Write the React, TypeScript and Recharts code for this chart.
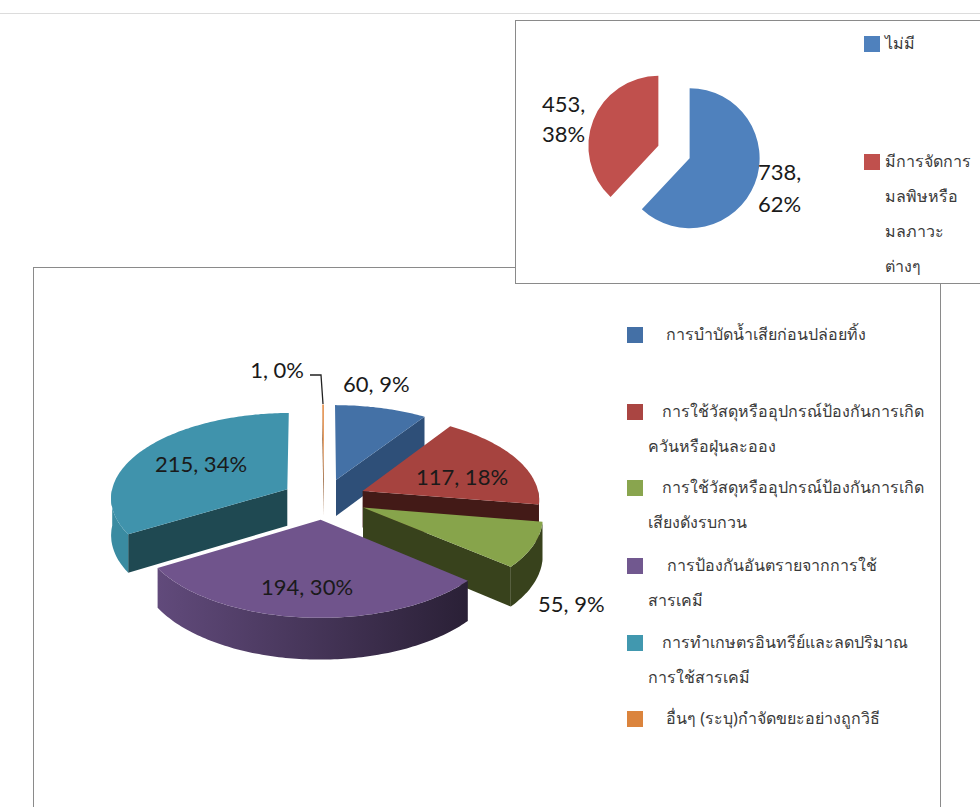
import { PieChart, Pie, Sector } from 'recharts';

// top chart
const topNames = ['ไม่มี', 'มีการจัดการมลพิษหรือมลภาวะต่างๆ'];
const topValues = [738, 453];
const topPercents = [62, 38];
const topColors = ['#4F81BD', '#C0504D'];

// bottom chart
const mainNames = [
  'การบำบัดน้ำเสียก่อนปล่อยทิ้ง',
  'การใช้วัสดุหรืออุปกรณ์ป้องกันการเกิดควันหรือฝุ่นละออง',
  'การใช้วัสดุหรืออุปกรณ์ป้องกันการเกิดเสียงดังรบกวน',
  'การป้องกันอันตรายจากการใช้สารเคมี',
  'การทำเกษตรอินทรีย์และลดปริมาณการใช้สารเคมี',
  'อื่นๆ (ระบุ)กำจัดขยะอย่างถูกวิธี',
];
const mainValues = [60, 117, 55, 194, 215, 1];
const mainPercents = [9, 18, 9, 30, 34, 0];
const faceColors = ['#4471A6', '#A6433F', '#87A44B', '#70548C', '#4093AC', '#E2853A'];
const wallColors = ['#2E4F78', '#431A17', '#38421C', '#4A3760', '#1F4952', '#8A4F20'];
const rimColors = ['#2E4F78', '#431A17', '#38421C', 'url(#purpleRim)', '#3A8BA1', '#8A4F20'];
const legendColors = ['#4470A6', '#AA4542', '#89A54E', '#71588F', '#4198AF', '#DB843D'];

const topLegend = [
  { lines: ['ไม่มี'], top: 36 },
  { lines: ['มีการจัดการ', 'มลพิษหรือ', 'มลภาวะ', 'ต่างๆ'], top: 154 },
];
const mainLegend = [
  { lines: ['การบำบัดน้ำเสียก่อนปล่อยทิ้ง'], top: 327, indent: 666 },
  { lines: ['การใช้วัสดุหรืออุปกรณ์ป้องกันการเกิด', 'ควันหรือฝุ่นละออง'], top: 404, indent: 662 },
  { lines: ['การใช้วัสดุหรืออุปกรณ์ป้องกันการเกิด', 'เสียงดังรบกวน'], top: 480, indent: 662 },
  { lines: ['การป้องกันอันตรายจากการใช้', 'สารเคมี'], top: 558, indent: 667 },
  { lines: ['การทำเกษตรอินทรีย์และลดปริมาณ', 'การใช้สารเคมี'], top: 635, indent: 662 },
  { lines: ['อื่นๆ (ระบุ)กำจัดขยะอย่างถูกวิธี'], top: 711, indent: 666 },
];

const topData = topValues.map((value, i) => ({ name: topNames[i], value, fill: topColors[i] }));
const mainData = mainValues.map((value, i) => ({ name: mainNames[i], value, fill: faceColors[i] }));

const EXPLODE = 0.24;
const TILT = 0.48; // vertical squash of the pie
const PERSPECTIVE = 0.092;
const DEPTH = 37;
const NO_MARGIN = { top: 0, right: 0, bottom: 0, left: 0 };
const NUM_FONT = 'Lato, "Open Sans", sans-serif';
const THAI_FONT = '"Noto Sans", "Liberation Sans", "DejaVu Sans", sans-serif';

const rad = (deg: number) => (deg * Math.PI) / 180;

// flat exploded slice
const FlatSlice = (props: any) => {
  const { cx, cy, outerRadius, startAngle, endAngle, fill } = props;
  const mid = rad((startAngle + endAngle) / 2);
  const shift = EXPLODE * outerRadius;
  return (
    <Sector
      cx={cx + shift * Math.cos(mid)}
      cy={cy - shift * Math.sin(mid)}
      innerRadius={0}
      outerRadius={outerRadius}
      startAngle={startAngle}
      endAngle={endAngle}
      fill={fill}
      stroke="none"
    />
  );
};

// fake 3D slice, built from the angles the Pie hands over
const Slice3D = (props: any) => {
  const { cx, cy, outerRadius, startAngle, endAngle, index } = props;
  const t1 = 90 - startAngle;
  const t2 = 90 - endAngle;
  const mid = (t1 + t2) / 2;

  const pt = (theta: number, r: number, down: number) => {
    const X = EXPLODE * Math.sin(rad(mid)) + r * Math.sin(rad(theta));
    const Y = EXPLODE * Math.cos(rad(mid)) + r * Math.cos(rad(theta));
    const s = 1 / (1 + PERSPECTIVE * Y);
    const px = cx + outerRadius * X * s;
    const py = cy - outerRadius * TILT * Y * s + down * s;
    return `${px.toFixed(1)},${py.toFixed(1)}`;
  };

  const arc = (from: number, to: number, down: number) => {
    const pts: string[] = [];
    const steps = Math.max(1, Math.ceil(Math.abs(to - from)));
    for (let i = 0; i <= steps; i++) {
      pts.push(pt(from + ((to - from) * i) / steps, 1, down));
    }
    return pts;
  };

  const wall = (theta: number) =>
    `M${pt(theta, 0, 0)}L${pt(theta, 1, 0)}L${pt(theta, 1, DEPTH)}L${pt(theta, 0, DEPTH)}Z`;

  const rimFrom = Math.max(t1, 90);
  const rimTo = Math.min(t2, 270);
  const rim =
    rimTo > rimFrom
      ? `M${arc(rimFrom, rimTo, 0).join('L')}L${arc(rimTo, rimFrom, DEPTH).join('L')}Z`
      : null;

  return (
    <g>
      {Math.sin(rad(t1)) < 0 && <path d={wall(t1)} fill={wallColors[index]} />}
      {Math.sin(rad(t2)) > 0.01 && <path d={wall(t2)} fill={wallColors[index]} />}
      {rim && <path d={rim} fill={rimColors[index]} />}
      <path d={`M${pt(t1, 0, 0)}L${arc(t1, t2, 0).join('L')}Z`} fill={faceColors[index]} />
    </g>
  );
};

// label spots are relative to the chart
const mainLabelSpots = [
  { x: 310, y: 116, anchor: 'start' },
  { x: 429, y: 209, anchor: 'middle' },
  { x: 505, y: 336, anchor: 'start' },
  { x: 274, y: 319, anchor: 'middle' },
  { x: 168, y: 196, anchor: 'middle' },
  { x: 271, y: 102, anchor: 'end' },
];

const MainLabel = (props: any) => {
  const { index, value } = props;
  const spot = mainLabelSpots[index];
  return (
    <g>
      <text
        x={spot.x}
        y={spot.y}
        textAnchor={spot.anchor}
        dominantBaseline="central"
        fontFamily={NUM_FONT}
        fontSize={22}
        fill="#1a1a1a"
      >
        {`${value}, ${mainPercents[index]}%`}
      </text>
      {index === 5 && (
        <path d="M277,108L288,108L290,137" fill="none" stroke="#222" strokeWidth={1.3} />
      )}
    </g>
  );
};

const topLabelSpots = [
  { x: 242, lines: [150, 182] },
  { x: 26, lines: [82, 112] },
];

const TopLabel = (props: any) => {
  const { index, value } = props;
  const spot = topLabelSpots[index];
  return (
    <g fontFamily={NUM_FONT} fontSize={22} fill="#1a1a1a">
      <text x={spot.x} y={spot.lines[0]} dominantBaseline="central">{`${value},`}</text>
      <text x={spot.x} y={spot.lines[1]} dominantBaseline="central">{`${topPercents[index]}%`}</text>
    </g>
  );
};

const swatch = (left: number, top: number, color: string) => (
  <div style={{ position: 'absolute', left, top, width: 16, height: 16, background: color }} />
);

const legendLine = (text: string, left: number, top: number, key: number) => (
  <div
    key={key}
    style={{
      position: 'absolute',
      left,
      top,
      height: 24,
      lineHeight: '24px',
      fontFamily: THAI_FONT,
      fontSize: 16,
      color: '#3a3a3a',
      whiteSpace: 'nowrap',
    }}
  >
    {text}
  </div>
);

export default function App() {
  return (
    <div style={{ position: 'absolute', left: 0, top: 0, width: 980, height: 807, overflow: 'hidden', background: '#fff' }}>
      <div style={{ position: 'absolute', left: 0, top: 13, width: 980, height: 1, background: '#dcdcdc' }} />

      {/* bottom chart */}
      <div
        style={{
          position: 'absolute',
          left: 33,
          top: 267,
          width: 908,
          height: 560,
          border: '1px solid #8a8a8a',
          boxSizing: 'border-box',
        }}
      />
      <div style={{ position: 'absolute', left: 33, top: 267 }}>
        <PieChart width={620} height={540} margin={NO_MARGIN}>
          <defs>
            <linearGradient id="purpleRim" x1="0" y1="0" x2="1" y2="0">
              <stop offset="0%" stopColor="#614A7B" />
              <stop offset="100%" stopColor="#2A2036" />
            </linearGradient>
          </defs>
          <Pie
            data={mainData}
            dataKey="value"
            nameKey="name"
            cx={291}
            cy={232}
            outerRadius={177}
            startAngle={90}
            endAngle={-270}
            shape={Slice3D}
            label={MainLabel}
            labelLine={false}
            stroke="none"
            isAnimationActive={false}
          />
        </PieChart>
      </div>
      {mainLegend.map((row, i) => (
        <div key={i}>
          {swatch(627, row.top, legendColors[i])}
          {row.lines.map((line, j) =>
            legendLine(line, j === 0 ? row.indent : 648, row.top - 5 + j * 35, j)
          )}
        </div>
      ))}

      {/* top chart */}
      <div
        style={{
          position: 'absolute',
          left: 515,
          top: 20,
          width: 480,
          height: 264,
          border: '1px solid #8a8a8a',
          boxSizing: 'border-box',
          background: '#fff',
          overflow: 'hidden',
        }}
      >
        <PieChart width={340} height={262} margin={NO_MARGIN}>
          <Pie
            data={topData}
            dataKey="value"
            nameKey="name"
            cx={158}
            cy={131}
            outerRadius={70}
            startAngle={90}
            endAngle={-270}
            shape={FlatSlice}
            label={TopLabel}
            labelLine={false}
            stroke="none"
            isAnimationActive={false}
          />
        </PieChart>
        {topLegend.map((row, i) => (
          <div key={i}>
            {swatch(348, row.top - 21, topColors[i])}
            {row.lines.map((line, j) => legendLine(line, 369, row.top - 26 + j * 35, j))}
          </div>
        ))}
      </div>
    </div>
  );
}
